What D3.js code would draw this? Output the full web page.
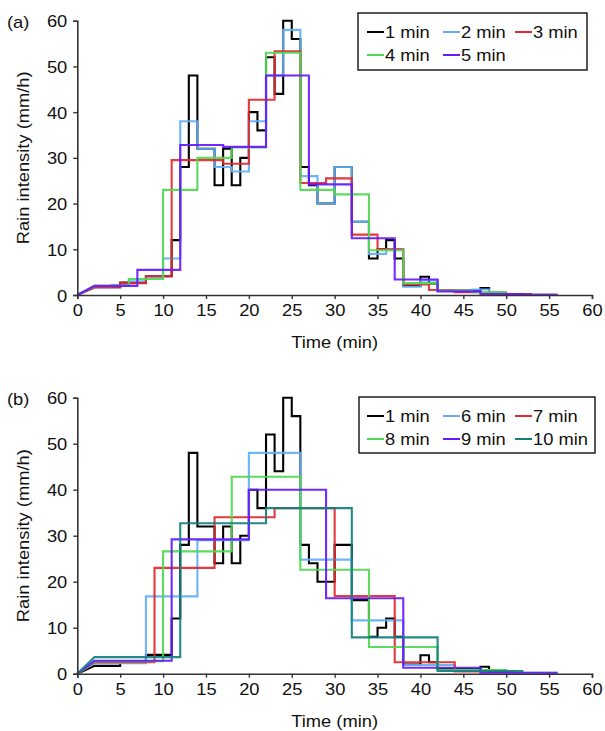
<!DOCTYPE html>
<html>

<head>
    <meta charset="utf-8">
    <script src="https://d3js.org/d3.v7.min.js"></script>
    <style>
        * {
            margin: 0;
            padding: 0;
        }

        body {
            background: #fff;
            font-family: "Liberation Sans", Arial, sans-serif;
        }
    </style>
</head>

<body>
    <div id="chart"></div>
</body>
<script>
    // step edges (min) and the intensity on each step (mm/h)
    const t1 = [2, 5, 8, 11, 12, 13, 14, 16, 17, 18, 19, 20, 21, 22, 23, 24, 25, 26, 27, 28, 30, 32, 34, 35, 36, 37, 38, 40, 41, 42, 47, 48, 50];
    const v1 = [1.7, 2.7, 4.1, 12, 28, 48, 32, 24, 32, 24, 30, 40, 36, 52, 44, 60, 56, 28, 24, 20, 28, 16, 8, 10, 12, 8, 2, 4, 2.5, 1, 1.5, 0.5];

    const t2 = [2, 4, 6, 8, 10, 12, 14, 16, 18, 20, 22, 24, 26, 28, 30, 32, 34, 36, 38, 40, 42, 44, 46, 48, 50];
    const v2 = [1.7, 2.2, 3, 4, 8, 38, 32, 28, 27, 38, 48, 58, 26, 20, 28, 16, 9, 10, 1.8, 3.2, 1, 0.8, 1.2, 0.3];

    const t3 = [2, 5, 8, 11, 14, 17, 20, 23, 26, 29, 32, 35, 38, 41, 44, 47, 50, 53];
    const v3 = [1.7, 2.6, 4.1, 29.5, 29.5, 28.7, 42.7, 53.3, 24.5, 25.5, 13.2, 10, 2.3, 1.1, 0.6, 0.5, 0.2];

    const t4 = [2, 6, 10, 14, 18, 22, 26, 30, 34, 38, 42, 46, 50];
    const v4 = [2, 3.5, 23, 30, 32.3, 53, 23, 22, 9.8, 2.6, 1, 0.6];

    const t5 = [2, 7, 12, 17, 22, 27, 32, 37, 42, 47, 52, 56];
    const v5 = [2, 5.5, 32.8, 32.4, 48, 24.2, 12.4, 3.4, 0.8, 0.2, 0.1];

    const t6 = [2, 8, 14, 20, 26, 32, 38, 44, 50, 56];
    const v6 = [2.3, 16.8, 29, 48, 24.8, 11.6, 1.9, 0.8, 0.2];

    const t7 = [2, 9, 16, 23, 30, 37, 44, 51];
    const v7 = [2.5, 23, 34, 36, 16.9, 2.5, 0.5];

    const t8 = [2, 10, 18, 26, 34, 42, 50];
    const v8 = [2.7, 26.6, 42.8, 22.6, 5.8, 0.8];

    const t9 = [2, 11, 20, 29, 38, 47, 56];
    const v9 = [2.8, 29.2, 40, 16.4, 1.3, 0.2];

    const t10 = [2, 12, 22, 32, 42, 52];
    const v10 = [3.6, 32.7, 36, 7.9, 0.6];

    const xTicks = d3.range(0, 61, 5);
    const yTicks = d3.range(0, 61, 10);

    const panelA = [
        { name: "1 min", t: t1, v: v1, color: "#000000" },
        { name: "2 min", t: t2, v: v2, color: "#62aff7" },
        { name: "3 min", t: t3, v: v3, color: "#e3282e" },
        { name: "4 min", t: t4, v: v4, color: "#4fd84f" },
        { name: "5 min", t: t5, v: v5, color: "#6619ff" }
    ];
    const panelB = [
        { name: "1 min", t: t1, v: v1, color: "#000000" },
        { name: "6 min", t: t6, v: v6, color: "#62aff7" },
        { name: "7 min", t: t7, v: v7, color: "#e3282e" },
        { name: "8 min", t: t8, v: v8, color: "#4fd84f" },
        { name: "9 min", t: t9, v: v9, color: "#6619ff" },
        { name: "10 min", t: t10, v: v10, color: "#11807d" }
    ];

    const W = 605, H = 731;
    const left = 77.3, right = 592;
    const FS = "16.8px";
    const K = 1.09;   // the original type is a bit wider than Arial

    let svg = d3.select("#chart").append("svg")
        .attr("width", W)
        .attr("height", H)
        .style("font-family", "'Liberation Sans', Arial, sans-serif");

    function stepPoints(s) {
        let pts = [[0, 0]];
        for (let i = 0; i < s.v.length; i++) {
            pts.push([s.t[i], s.v[i]]);
            pts.push([s.t[i + 1], s.v[i]]);
        }
        return pts;
    }

    // widen text horizontally around its anchor
    function stretch(sel) {
        sel.each(function () {
            let t = d3.select(this);
            let x = +t.attr("x") || 0;
            t.attr("x", x / K).attr("transform", (t.attr("transform") || "") + " scale(" + K + ",1)");
        });
    }

    function panel(series, top, bottom, tag, legendBox) {
        let x = d3.scaleLinear().domain([0, 60]).range([left, right]);
        let y = d3.scaleLinear().domain([0, 60]).range([bottom, top]);
        let g = svg.append("g");

        let line = d3.line().x(d => x(d[0])).y(d => y(d[1]));

        series.forEach(s => {
            g.append("path")
                .attr("d", line(stepPoints(s)))
                .attr("fill", "none")
                .attr("stroke", s.color)
                .attr("stroke-width", 2.1)
                .attr("stroke-opacity", s.color == "#000000" ? 1 : 0.92);
        });

        // axes
        let gx = g.append("g")
            .attr("transform", "translate(0," + bottom + ")")
            .call(d3.axisBottom(x).tickValues(xTicks).tickSize(4).tickPadding(5));
        let gy = g.append("g")
            .attr("transform", "translate(" + left + ",0)")
            .call(d3.axisLeft(y).tickValues(yTicks).tickSize(4).tickPadding(6));
        [gx, gy].forEach(a => {
            a.select(".domain").attr("stroke", "#333").attr("stroke-width", 1.6);
            a.selectAll(".tick line").attr("stroke", "#333").attr("stroke-width", 1.4);
            a.selectAll(".tick text")
                .attr("fill", "#111")
                .style("font-size", FS)
                .style("font-family", "'Liberation Sans', Arial, sans-serif");
        });
        gy.selectAll(".tick text").attr("dy", "0.36em");
        stretch(gx.selectAll(".tick text"));
        stretch(gy.selectAll(".tick text"));

        g.append("text")
            .attr("x", (left + right) / 2)
            .attr("y", bottom + 53)
            .attr("text-anchor", "middle")
            .style("font-size", FS)
            .attr("fill", "#111")
            .text("Time (min)")
            .call(stretch);

        g.append("text")
            .attr("transform", "translate(29," + (top + bottom) / 2 + ") rotate(-90)")
            .attr("text-anchor", "middle")
            .style("font-size", FS)
            .attr("fill", "#111")
            .text("Rain intensity (mm/h)")
            .call(stretch);

        g.append("text")
            .attr("x", 7)
            .attr("y", top + 7)
            .style("font-size", FS)
            .attr("fill", "#111")
            .text(tag)
            .call(stretch);

        // legend
        g.append("rect")
            .attr("x", legendBox[0])
            .attr("y", legendBox[1])
            .attr("width", legendBox[2])
            .attr("height", legendBox[3])
            .attr("fill", "#fff")
            .attr("stroke", "#111")
            .attr("stroke-width", 1.4);

        let colX = [367, 443, 515];
        series.forEach((s, i) => {
            let lx = colX[i % 3];
            let ly = legendBox[1] + 19 + Math.floor(i / 3) * 23;
            g.append("line")
                .attr("x1", lx).attr("x2", lx + 17)
                .attr("y1", ly).attr("y2", ly)
                .attr("stroke", s.color)
                .attr("stroke-width", 2);
            g.append("text")
                .attr("x", lx + 18)
                .attr("y", ly)
                .attr("dy", "0.36em")
                .style("font-size", FS)
                .attr("fill", "#111")
                .text(s.name)
                .call(stretch);
        });
    }

    panel(panelA, 20.7, 295, "(a)", [358, 13, 229, 57]);
    panel(panelB, 397.7, 673.7, "(b)", [359, 397, 236, 56]);
</script>

</html>
